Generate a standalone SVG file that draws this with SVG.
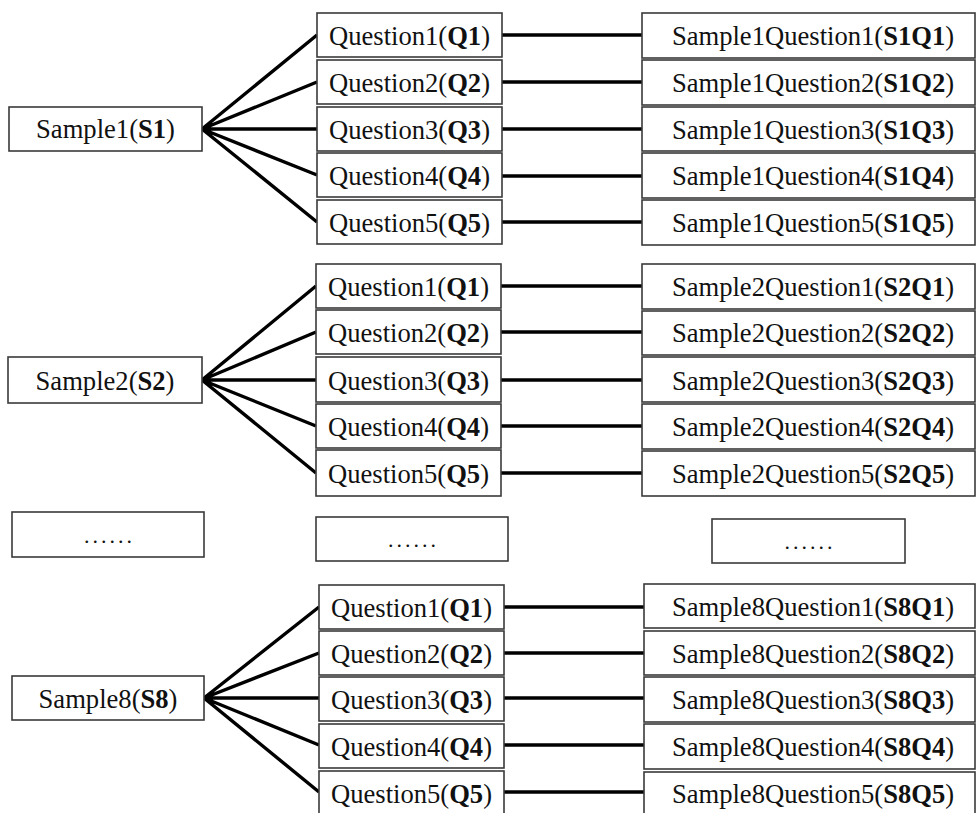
<svg xmlns="http://www.w3.org/2000/svg" width="978" height="813" viewBox="0 0 978 813">
<style>
.box{fill:#fff;stroke:#3a3a3a;stroke-width:1.6}
.t{font-family:"Liberation Serif","Times New Roman",serif;font-size:26.6px;fill:#111;text-anchor:middle}
.b{font-weight:bold}
.d{font-size:22px;letter-spacing:3px}
.ln{stroke:#000;stroke-width:3.4;fill:none;stroke-linecap:butt}
</style>
<rect width="978" height="813" fill="#fff"/>
<g id="connectors">
<path class="ln" d="M202 129L317 35M202 129L317 82M202 129L317 129M202 129L317 175M202 129L317 222"/>
<path class="ln" d="M502 35H642M502 82H642M502 129H642M502 176H642M502 222H642"/>
<path class="ln" d="M202 380L316 286M202 380L316 332M202 380L316 380M202 380L316 426M202 380L316 473"/>
<path class="ln" d="M501 286H642M501 332H642M501 380H642M501 426H642M501 473H642"/>
<path class="ln" d="M204 698L319 607M204 698L319 653M204 698L319 698M204 698L319 745M204 698L319 792"/>
<path class="ln" d="M504 607H644M504 653H644M504 698H644M504 745H644M504 792H644"/>
</g>
<g id="S1"><rect class="box" x="9" y="107" width="193" height="44"/><text class="t" x="105.5" y="138">Sample1(<tspan class="b">S1</tspan>)</text></g>
<g id="S1-Q1"><rect class="box" x="317" y="13" width="185" height="44"/><text class="t" x="409.5" y="45">Question1(<tspan class="b">Q1</tspan>)</text></g>
<g id="S1-Q2"><rect class="box" x="317" y="60" width="185" height="44"/><text class="t" x="409.5" y="92">Question2(<tspan class="b">Q2</tspan>)</text></g>
<g id="S1-Q3"><rect class="box" x="317" y="107" width="185" height="44"/><text class="t" x="409.5" y="139">Question3(<tspan class="b">Q3</tspan>)</text></g>
<g id="S1-Q4"><rect class="box" x="317" y="153" width="185" height="44"/><text class="t" x="409.5" y="185">Question4(<tspan class="b">Q4</tspan>)</text></g>
<g id="S1-Q5"><rect class="box" x="317" y="200" width="185" height="44"/><text class="t" x="409.5" y="232">Question5(<tspan class="b">Q5</tspan>)</text></g>
<g id="S1Q1"><rect class="box" x="642" y="13" width="333" height="45"/><text class="t" x="813" y="45">Sample1Question1(<tspan class="b">S1Q1</tspan>)</text></g>
<g id="S1Q2"><rect class="box" x="642" y="60" width="333" height="45"/><text class="t" x="813" y="92">Sample1Question2(<tspan class="b">S1Q2</tspan>)</text></g>
<g id="S1Q3"><rect class="box" x="642" y="107" width="333" height="44"/><text class="t" x="813" y="139">Sample1Question3(<tspan class="b">S1Q3</tspan>)</text></g>
<g id="S1Q4"><rect class="box" x="642" y="153" width="333" height="45"/><text class="t" x="813" y="185">Sample1Question4(<tspan class="b">S1Q4</tspan>)</text></g>
<g id="S1Q5"><rect class="box" x="642" y="200" width="333" height="45"/><text class="t" x="813" y="232">Sample1Question5(<tspan class="b">S1Q5</tspan>)</text></g>

<g id="S2"><rect class="box" x="8" y="357" width="194" height="46"/><text class="t" x="105" y="390">Sample2(<tspan class="b">S2</tspan>)</text></g>
<g id="S2-Q1"><rect class="box" x="316" y="264" width="185" height="44"/><text class="t" x="408.5" y="296">Question1(<tspan class="b">Q1</tspan>)</text></g>
<g id="S2-Q2"><rect class="box" x="316" y="310" width="185" height="44"/><text class="t" x="408.5" y="342">Question2(<tspan class="b">Q2</tspan>)</text></g>
<g id="S2-Q3"><rect class="box" x="316" y="357" width="185" height="45"/><text class="t" x="408.5" y="390">Question3(<tspan class="b">Q3</tspan>)</text></g>
<g id="S2-Q4"><rect class="box" x="316" y="404" width="185" height="44"/><text class="t" x="408.5" y="436">Question4(<tspan class="b">Q4</tspan>)</text></g>
<g id="S2-Q5"><rect class="box" x="316" y="450" width="185" height="46"/><text class="t" x="408.5" y="483">Question5(<tspan class="b">Q5</tspan>)</text></g>
<g id="S2Q1"><rect class="box" x="642" y="264" width="333" height="45"/><text class="t" x="813" y="296">Sample2Question1(<tspan class="b">S2Q1</tspan>)</text></g>
<g id="S2Q2"><rect class="box" x="642" y="311" width="333" height="44"/><text class="t" x="813" y="342">Sample2Question2(<tspan class="b">S2Q2</tspan>)</text></g>
<g id="S2Q3"><rect class="box" x="642" y="357" width="333" height="45"/><text class="t" x="813" y="390">Sample2Question3(<tspan class="b">S2Q3</tspan>)</text></g>
<g id="S2Q4"><rect class="box" x="642" y="404" width="333" height="45"/><text class="t" x="813" y="436">Sample2Question4(<tspan class="b">S2Q4</tspan>)</text></g>
<g id="S2Q5"><rect class="box" x="642" y="451" width="333" height="45"/><text class="t" x="813" y="483">Sample2Question5(<tspan class="b">S2Q5</tspan>)</text></g>

<g id="dots1"><rect class="box" x="12" y="512" width="192" height="45"/><text class="t d" x="109.5" y="543">......</text></g>
<g id="dots2"><rect class="box" x="316" y="517" width="192" height="44"/><text class="t d" x="413.5" y="547">......</text></g>
<g id="dots3"><rect class="box" x="712" y="519" width="193" height="44"/><text class="t d" x="810" y="549">......</text></g>

<g id="S8"><rect class="box" x="12" y="676" width="192" height="44"/><text class="t" x="108" y="708">Sample8(<tspan class="b">S8</tspan>)</text></g>
<g id="S8-Q1"><rect class="box" x="319" y="585" width="185" height="44"/><text class="t" x="411.5" y="617">Question1(<tspan class="b">Q1</tspan>)</text></g>
<g id="S8-Q2"><rect class="box" x="319" y="631" width="185" height="44"/><text class="t" x="411.5" y="663">Question2(<tspan class="b">Q2</tspan>)</text></g>
<g id="S8-Q3"><rect class="box" x="319" y="677" width="185" height="44"/><text class="t" x="411.5" y="709">Question3(<tspan class="b">Q3</tspan>)</text></g>
<g id="S8-Q4"><rect class="box" x="319" y="724" width="185" height="44"/><text class="t" x="411.5" y="756">Question4(<tspan class="b">Q4</tspan>)</text></g>
<g id="S8-Q5"><rect class="box" x="319" y="771" width="185" height="44"/><text class="t" x="411.5" y="803">Question5(<tspan class="b">Q5</tspan>)</text></g>
<g id="S8Q1"><rect class="box" x="644" y="584" width="331" height="44"/><text class="t" x="813" y="616">Sample8Question1(<tspan class="b">S8Q1</tspan>)</text></g>
<g id="S8Q2"><rect class="box" x="644" y="631" width="331" height="44"/><text class="t" x="813" y="663">Sample8Question2(<tspan class="b">S8Q2</tspan>)</text></g>
<g id="S8Q3"><rect class="box" x="644" y="677" width="331" height="45"/><text class="t" x="813" y="709">Sample8Question3(<tspan class="b">S8Q3</tspan>)</text></g>
<g id="S8Q4"><rect class="box" x="644" y="724" width="331" height="45"/><text class="t" x="813" y="756">Sample8Question4(<tspan class="b">S8Q4</tspan>)</text></g>
<g id="S8Q5"><rect class="box" x="644" y="772" width="331" height="44"/><text class="t" x="813" y="803">Sample8Question5(<tspan class="b">S8Q5</tspan>)</text></g>
</svg>
